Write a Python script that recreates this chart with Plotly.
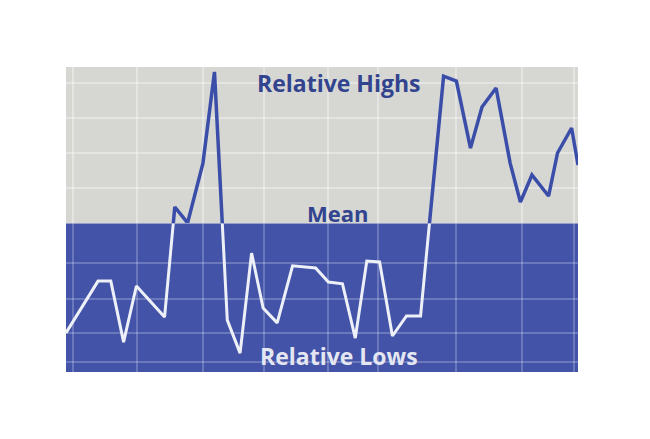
import plotly.graph_objects as go

# Data (x: time units 0-40, y: value 0-100)
x_vals = [0, 2.5, 3.5, 4.5, 5.5, 7.7, 8.5, 9.5, 10.7, 11.6, 12.6, 13.6, 14.5, 15.4,
          16.5, 17.7, 19.5, 20.5, 21.6, 22.6, 23.5, 24.5, 25.5, 26.6, 27.7, 29.5,
          30.5, 31.6, 32.5, 33.6, 34.7, 35.5, 36.4, 37.7, 38.4, 39.5, 40]
y_vals = [12.8, 29.8, 29.8, 9.8, 28.2, 18.0, 54.1, 48.9, 68.5, 98.4, 17.0, 6.2, 39.0, 21.0,
          16.1, 34.8, 34.1, 29.5, 28.9, 11.1, 36.4, 36.1, 11.8, 18.4, 18.4, 97.0,
          95.4, 73.4, 86.9, 93.1, 68.5, 55.7, 64.6, 57.7, 71.8, 80.0, 67.9]
mean_val = 48.7
y_min, y_max = 0, 100
x_grid = [0.55, 5.55, 10.7, 15.5, 20.5, 24.4, 30.5, 35.6, 39.7]
y_grid_high = [60.3, 71.8, 83.3, 94.8]
y_grid_low = [3.3, 12.8, 23.9, 35.7]

GRAY = "#d6d6d3"
BLUE = "#4253a8"
LINE_BLUE = "#3a4ea9"
TEXT_BLUE = "#33448f"

split = (mean_val - y_min) / (y_max - y_min)

fig = go.Figure()
# Upper part (above mean): blue line on gray
fig.add_trace(go.Scatter(x=x_vals, y=y_vals, mode="lines", xaxis="x", yaxis="y",
                         line=dict(color=LINE_BLUE, width=3.5), hoverinfo="skip"))
# Lower part (below mean): white line on blue
fig.add_trace(go.Scatter(x=x_vals, y=y_vals, mode="lines", xaxis="x2", yaxis="y2",
                         line=dict(color="#eef0f8", width=3), hoverinfo="skip"))

fig.update_layout(
    width=650, height=439,
    margin=dict(l=58, r=80, t=59, b=75),
    paper_bgcolor="white",
    plot_bgcolor="rgba(0,0,0,0)",
    showlegend=False,
    xaxis=dict(domain=[0, 1], range=[0, 40], anchor="y", tickvals=x_grid,
               showticklabels=False, showgrid=True, gridcolor="rgba(255,255,255,0.35)",
               gridwidth=1.5, zeroline=False, showline=False, ticks=""),
    xaxis2=dict(domain=[0, 1], range=[0, 40], anchor="y2", tickvals=x_grid,
                showticklabels=False, showgrid=True, gridcolor="rgba(255,255,255,0.22)",
                gridwidth=2, zeroline=False, showline=False, ticks=""),
    yaxis=dict(domain=[split, 1], range=[mean_val, y_max], anchor="x", tickvals=y_grid_high,
               showticklabels=False, showgrid=True, gridcolor="rgba(255,255,255,0.35)",
               gridwidth=1.5, zeroline=False, showline=False, ticks=""),
    yaxis2=dict(domain=[0, split], range=[y_min, mean_val], anchor="x2", tickvals=y_grid_low,
                showticklabels=False, showgrid=True, gridcolor="rgba(255,255,255,0.22)",
                gridwidth=2, zeroline=False, showline=False, ticks=""),
    shapes=[
        dict(type="rect", xref="x domain", yref="y domain", x0=0, x1=1, y0=0, y1=1,
             fillcolor=GRAY, line=dict(width=0), layer="below"),
        dict(type="rect", xref="x2 domain", yref="y2 domain", x0=0, x1=1, y0=0, y1=1,
             fillcolor=BLUE, line=dict(width=0), layer="below"),
    ],
    annotations=[
        dict(text="Relative Highs", x=0.534, y=0.948, xref="x domain", yref="paper",
             xanchor="center", yanchor="middle", showarrow=False,
             font=dict(family="Open Sans", size=23, color=TEXT_BLUE, weight="bold")),
        dict(text="Mean", x=0.531, y=0.52, xref="x domain", yref="paper",
             xanchor="center", yanchor="middle", showarrow=False,
             font=dict(family="Open Sans", size=22, color=TEXT_BLUE, weight="bold")),
        dict(text="Relative Lows", x=0.534, y=0.052, xref="x domain", yref="paper",
             xanchor="center", yanchor="middle", showarrow=False,
             font=dict(family="Open Sans", size=23, color="#e4e7f2", weight="bold")),
    ],
)

fig.write_html("out.html")
